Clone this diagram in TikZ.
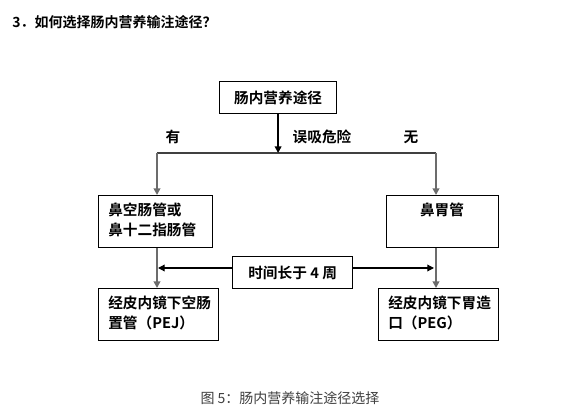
\documentclass[tikz,border=0pt]{standalone}
\usepackage{fontspec}
\setmainfont{Liberation Sans}
\newfontfamily\cjkb[BoldFont={Noto Sans CJK SC Bold}]{Noto Sans CJK SC}
\usetikzlibrary{arrows.meta}
\begin{document}
\begin{tikzpicture}[x=0.75pt,y=-0.75pt,
  box/.style={draw=black,line width=0.9pt,inner sep=0pt,anchor=north west},
  txt/.style={font=\cjkb\bfseries\fontsize{11}{15}\selectfont,inner sep=0pt},
  gline/.style={draw=gray!85!black,line width=1.4pt},
  tip/.style={-{Triangle[width=5pt,length=5pt]}}]
\useasboundingbox[fill=white] (0,0) rectangle (572,420);
\node[anchor=west,font=\cjkb\bfseries\fontsize{10.5}{13}\selectfont,inner sep=0pt] (title) at (12,22) {3．如何选择肠内营养输注途径？};
% boxes
\node[box,minimum width=117*0.75pt,minimum height=32*0.75pt] (top) at (219,81) {};
\node[txt] (toptxt) at (top.center) {肠内营养途径};
\node[box,minimum width=114*0.75pt,minimum height=52*0.75pt] (bl) at (98,195) {};
\node[txt,anchor=north west,align=left] (bltxt) at (108,203) {鼻空肠管或\\鼻十二指肠管};
\node[box,minimum width=112*0.75pt,minimum height=52*0.75pt] (br) at (386,195) {};
\node[txt,anchor=north] (brtxt) at (442,203) {鼻胃管};
\node[box,minimum width=120*0.75pt,minimum height=52*0.75pt] (pl) at (98,288) {};
\node[txt,anchor=north west,align=left] (pltxt) at (108,296) {经皮内镜下空肠\\置管（PEJ）};
\node[box,minimum width=120*0.75pt,minimum height=52*0.75pt] (pr) at (378,288) {};
\node[txt,anchor=north west,align=left] (prtxt) at (388,296) {经皮内镜下胃造\\口（PEG）};
\node[box,minimum width=120*0.75pt,minimum height=32*0.75pt] (mid) at (232,256) {};
\node[txt] (midtxt) at (mid.center) {时间长于 4 周};
% labels
\node[txt] (you) at (173,137) {有};
\node[txt] (risk) at (322,137) {误吸危险};
\node[txt] (wu) at (411,137) {无};
% connectors
\coordinate (j) at (top.south |- 0,153);
\coordinate (jl) at (157,153);
\coordinate (jr) at (436,153);
\draw[line width=0.9pt,draw=black!75] (jl) -- (jr);
\draw[line width=1.6pt,tip] (top.south) -- (j);
\draw[gline,tip] (jl) -- (jl |- bl.north);
\draw[gline,tip] (jr) -- (jr |- br.north);
\draw[gline,tip] (jl |- bl.south) -- (jl |- pl.north);
\draw[gline,tip] (jr |- br.south) -- (jr |- pr.north);
\draw[line width=0.9pt,tip] (mid.west |- 0,268) -- (158,268);
\draw[line width=0.9pt,tip] (mid.east |- 0,268) -- (434,268);
% caption
\node[font=\cjkb\fontsize{10.5}{13}\selectfont,text=black!75,inner sep=0pt] (cap) at (290,398) {图 5：肠内营养输注途径选择};
\end{tikzpicture}
\end{document}
